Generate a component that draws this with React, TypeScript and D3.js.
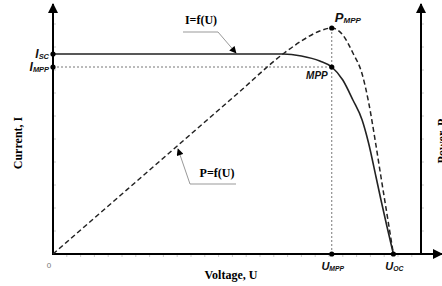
import React, { useEffect, useRef } from "react"
import * as d3 from "d3"

// values
const voltage = [0, 5, 10, 15, 20, 25, 27, 29, 30.3, 31.5, 32.6, 33.6, 34.3, 35.1, 35.65, 36.3, 37]
const current = [8.0, 8.0, 8.0, 8.0, 8.0, 8.0, 7.92, 7.72, 7.48, 6.96, 6.16, 5.36, 4.44, 3.1, 2.16, 1.1, 0]
const power = [0, 40, 80, 120, 160, 200, 213, 223, 226, 219, 201, 180, 152, 109, 77, 40, 0]

const Isc = 8.0
const Impp = 7.48
const Umpp = 30.3
const Uoc = 37
const Pmpp = 226

const W = 442
const H = 286

export default function App() {
  const ref = useRef<SVGSVGElement>(null)

  useEffect(() => {
    const svg = d3.select(ref.current)
    svg.selectAll("*").remove()

    const x = d3.scaleLinear().domain([0, 40]).range([53, 421])
    const yI = d3.scaleLinear().domain([0, 10]).range([254, 4])
    const yP = d3.scaleLinear().domain([0, 250]).range([254, 4])

    const defs = svg.append("defs")
    defs
      .append("marker")
      .attr("id", "head")
      .attr("viewBox", "0 0 10 10")
      .attr("refX", 9)
      .attr("refY", 5)
      .attr("markerWidth", 10)
      .attr("markerHeight", 10)
      .attr("markerUnits", "userSpaceOnUse")
      .attr("orient", "auto")
      .append("path")
      .attr("d", "M0,0L10,5L0,10z")
      .attr("fill", "#000")
    defs
      .append("marker")
      .attr("id", "small")
      .attr("viewBox", "0 0 10 10")
      .attr("refX", 9)
      .attr("refY", 5)
      .attr("markerWidth", 8)
      .attr("markerHeight", 7)
      .attr("markerUnits", "userSpaceOnUse")
      .attr("orient", "auto")
      .append("path")
      .attr("d", "M0,0L10,5L0,10z")
      .attr("fill", "#000")

    // faint minor ticks
    const g = svg.append("g")
    const tickI = d3.range(0.92, 9.6, 0.92)
    g.selectAll(".tl")
      .data(tickI)
      .enter()
      .append("line")
      .attr("x1", x(0))
      .attr("x2", x(0) + 3)
      .attr("y1", d => yI(d))
      .attr("y2", d => yI(d))
      .attr("stroke", "#ccc")
    g.selectAll(".tr")
      .data(tickI)
      .enter()
      .append("line")
      .attr("x1", x(40))
      .attr("x2", x(40) + 3)
      .attr("y1", d => yI(d))
      .attr("y2", d => yI(d))
      .attr("stroke", "#ccc")
    g.selectAll(".tx")
      .data(d3.range(1.5, 40, 1.5))
      .enter()
      .append("line")
      .attr("x1", d => x(d))
      .attr("x2", d => x(d))
      .attr("y1", yI(0))
      .attr("y2", yI(0) + 3)
      .attr("stroke", "#ccc")

    // dotted guides to MPP
    svg
      .append("line")
      .attr("x1", x(0))
      .attr("x2", x(Umpp))
      .attr("y1", yI(Impp))
      .attr("y2", yI(Impp))
      .attr("stroke", "#777")
      .attr("stroke-width", 1)
      .attr("stroke-dasharray", "2,2")
    svg
      .append("line")
      .attr("x1", x(Umpp))
      .attr("x2", x(Umpp))
      .attr("y1", yP(Pmpp))
      .attr("y2", yI(0))
      .attr("stroke", "#777")
      .attr("stroke-width", 1)
      .attr("stroke-dasharray", "2,2")

    // axes
    svg
      .append("line")
      .attr("x1", x(0))
      .attr("x2", x(0))
      .attr("y1", yI(0) + 1)
      .attr("y2", 4)
      .attr("stroke", "#000")
      .attr("stroke-width", 2)
      .attr("marker-end", "url(#head)")
    svg
      .append("line")
      .attr("x1", x(40))
      .attr("x2", x(40))
      .attr("y1", yI(0) + 1)
      .attr("y2", 4)
      .attr("stroke", "#000")
      .attr("stroke-width", 2)
      .attr("marker-end", "url(#head)")
    svg
      .append("line")
      .attr("x1", x(0) - 1)
      .attr("x2", W)
      .attr("y1", yI(0))
      .attr("y2", yI(0))
      .attr("stroke", "#000")
      .attr("stroke-width", 2)
      .attr("marker-end", "url(#head)")

    // curves
    const idx = d3.range(voltage.length)
    const lineI = d3
      .line<number>()
      .x(i => x(voltage[i]))
      .y(i => yI(current[i]))
      .curve(d3.curveMonotoneX)
    const lineP = d3
      .line<number>()
      .x(i => x(voltage[i]))
      .y(i => yP(power[i]))
      .curve(d3.curveMonotoneX)

    svg
      .append("path")
      .attr("d", lineP(idx))
      .attr("fill", "none")
      .attr("stroke", "#222")
      .attr("stroke-width", 1.5)
      .attr("stroke-dasharray", "5,3")
    svg
      .append("path")
      .attr("d", lineI(idx))
      .attr("fill", "none")
      .attr("stroke", "#222")
      .attr("stroke-width", 1.6)

    // points
    const pts = [
      [x(0), yI(Isc)],
      [x(0), yI(Impp)],
      [x(Umpp), yI(Impp)],
      [x(Umpp), yP(Pmpp)],
      [x(Umpp), yI(0)],
      [x(Uoc), yI(0)]
    ]
    svg
      .selectAll(".pt")
      .data(pts)
      .enter()
      .append("circle")
      .attr("cx", d => d[0])
      .attr("cy", d => d[1])
      .attr("r", 2.6)
      .attr("fill", "#000")

    // subscript labels
    const sub = (
      px: number,
      py: number,
      main: string,
      s: string,
      anchor: string,
      size: number
    ) => {
      const t = svg
        .append("text")
        .attr("x", px)
        .attr("y", py)
        .attr("text-anchor", anchor)
        .attr("font-family", "Liberation Sans, Arial, sans-serif")
        .attr("font-style", "italic")
        .attr("font-weight", "bold")
        .attr("font-size", size)
        .attr("fill", "#111")
      t.append("tspan").text(main)
      t.append("tspan").attr("font-size", size * 0.62).attr("dy", 1).text(s)
    }
    sub(x(0) - 4, yI(Isc) + 4, "I", "SC", "end", 12)
    sub(x(0) - 4, yI(Impp) + 4, "I", "MPP", "end", 12)
    sub(x(Umpp) + 3, yP(Pmpp) - 6, "P", "MPP", "start", 13)
    sub(x(Umpp) + 1, yI(0) + 16, "U", "MPP", "middle", 11)
    sub(x(Uoc) + 1, yI(0) + 16, "U", "OC", "middle", 11)

    svg
      .append("text")
      .attr("x", x(Umpp) - 4)
      .attr("y", yI(Impp) + 12)
      .attr("text-anchor", "end")
      .attr("font-family", "Liberation Sans, Arial, sans-serif")
      .attr("font-style", "italic")
      .attr("font-weight", "bold")
      .attr("font-size", 10)
      .attr("fill", "#111")
      .text("MPP")

    svg
      .append("text")
      .attr("x", x(0) - 4)
      .attr("y", yI(0) + 14)
      .attr("text-anchor", "middle")
      .attr("font-family", "Liberation Sans, Arial, sans-serif")
      .attr("font-size", 8)
      .attr("fill", "#777")
      .text("0")

    // axis titles
    const serif = "Liberation Serif, Times New Roman, serif"
    svg
      .append("text")
      .attr("x", 231)
      .attr("y", 279)
      .attr("text-anchor", "middle")
      .attr("font-family", serif)
      .attr("font-weight", "bold")
      .attr("font-size", 12)
      .text("Voltage, U")
    svg
      .append("text")
      .attr("transform", "translate(22,143) rotate(-90)")
      .attr("text-anchor", "middle")
      .attr("font-family", serif)
      .attr("font-weight", "bold")
      .attr("font-size", 12)
      .text("Current, I")
    svg
      .append("text")
      .attr("transform", "translate(446,141) rotate(-90)")
      .attr("text-anchor", "middle")
      .attr("font-family", serif)
      .attr("font-weight", "bold")
      .attr("font-size", 12)
      .text("Power, P")

    // annotations
    svg
      .append("text")
      .attr("x", 201)
      .attr("y", 24)
      .attr("text-anchor", "middle")
      .attr("font-family", serif)
      .attr("font-weight", "bold")
      .attr("font-size", 12)
      .text("I=f(U)")
    svg
      .append("path")
      .attr("d", "M183,32H218L236,53")
      .attr("fill", "none")
      .attr("stroke", "#999")
      .attr("stroke-width", 1)
      .attr("marker-end", "url(#small)")
    svg
      .append("text")
      .attr("x", 217)
      .attr("y", 177)
      .attr("text-anchor", "middle")
      .attr("font-family", serif)
      .attr("font-weight", "bold")
      .attr("font-size", 12)
      .text("P=f(U)")
    svg
      .append("path")
      .attr("d", "M236,184H190L178,149")
      .attr("fill", "none")
      .attr("stroke", "#999")
      .attr("stroke-width", 1)
      .attr("marker-end", "url(#small)")
  }, [])

  return (
    <svg
      ref={ref}
      width={W}
      height={H}
      style={{ position: "absolute", left: 0, top: 0, background: "#fff" }}
    />
  )
}
